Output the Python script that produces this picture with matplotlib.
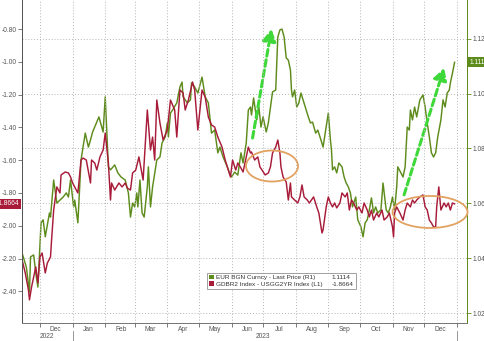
import matplotlib
matplotlib.use('Agg')
import matplotlib.pyplot as plt
import matplotlib.dates as mdates
import matplotlib.transforms as mtransforms
from matplotlib.patches import Ellipse, Patch
import pandas as pd

plt.rcParams['font.family'] = ['Liberation Sans', 'DejaVu Sans']

# jours comptes depuis le 2022-12-01
eur_days = [-17, -13, -10, -9, -6, -4, -2, 1, 3, 5, 9, 10, 13, 16, 19, 22, 25, 27, 29, 32,
            33, 36, 39, 43, 46, 48, 50, 56, 60, 62, 65, 67, 71, 74, 77, 81, 84, 86, 88, 90,
            92, 93, 95, 97, 99, 102, 103, 105, 107, 111, 114, 116, 119, 121, 122, 124, 126, 130, 133, 135,
            136, 140, 143, 144, 147, 150, 154, 157, 160, 163, 166, 169, 171, 174, 178, 180, 182, 185, 188, 191,
            193, 196, 198, 200, 201, 203, 206, 208, 210, 212, 215, 217, 219, 221, 224, 226, 228, 230, 232, 234,
            236, 238, 239, 240, 242, 244, 246, 248, 250, 253, 255, 257, 259, 262, 264, 267, 269, 272, 274, 276,
            277, 278, 280, 282, 284, 287, 289, 291, 293, 295, 297, 300, 302, 305, 307, 309, 311, 313, 315, 317,
            319, 321, 324, 326, 329, 331, 333, 335, 337, 339, 340, 343, 345, 347, 349, 351, 352, 354, 356, 358,
            361, 364, 366, 368, 370, 372, 374, 376, 378, 381, 383, 385, 387, 389, 390, 392, 394]
eur_price = [1.0419, 1.0368, 1.0277, 1.0405, 1.0412, 1.0346, 1.0295, 1.0529, 1.0540, 1.0478,
             1.0565, 1.0550, 1.0685, 1.0601, 1.0612, 1.0623, 1.0638, 1.0623, 1.0685, 1.0587,
             1.0612, 1.0529, 1.0758, 1.0856, 1.0805, 1.0831, 1.0860, 1.0915, 1.0860, 1.0988,
             1.0733, 1.0722, 1.0740, 1.0711, 1.0696, 1.0685, 1.0638, 1.0550, 1.0601, 1.0587,
             1.0638, 1.0587, 1.0685, 1.0565, 1.0550, 1.0660, 1.0733, 1.0587, 1.0660, 1.0758,
             1.0769, 1.0820, 1.0842, 1.0893, 1.0842, 1.0929, 1.0940, 1.0966, 1.1024, 1.1042,
             1.0988, 1.0966, 1.0977, 1.1039, 1.1024, 1.1002, 1.1060, 1.0988, 1.0966, 1.0856,
             1.0867, 1.0784, 1.0805, 1.0769, 1.0733, 1.0711, 1.0696, 1.0714, 1.0703, 1.0784,
             1.0747, 1.0820, 1.0940, 1.0951, 1.0922, 1.0984, 1.0904, 1.0951, 1.0878, 1.0915,
             1.0860, 1.0893, 1.0951, 1.1006, 1.1013, 1.1206, 1.1232, 1.1235, 1.1206, 1.1130,
             1.1122, 1.1086, 1.1013, 1.0988, 1.1013, 1.0951, 1.0966, 1.1002, 1.0977, 1.0940,
             1.0915, 1.0893, 1.0896, 1.0856, 1.0867, 1.0831, 1.0805, 1.0878, 1.0929, 1.0831,
             1.0795, 1.0722, 1.0733, 1.0711, 1.0747, 1.0733, 1.0696, 1.0674, 1.0660, 1.0638,
             1.0587, 1.0623, 1.0540, 1.0514, 1.0478, 1.0529, 1.0540, 1.0576, 1.0620, 1.0565,
             1.0587, 1.0565, 1.0576, 1.0674, 1.0576, 1.0565, 1.0587, 1.0623, 1.0576, 1.0660,
             1.0733, 1.0711, 1.0696, 1.0733, 1.0878, 1.0867, 1.0940, 1.0904, 1.0951, 1.0915,
             1.0977, 1.0995, 1.0951, 1.0893, 1.0842, 1.0784, 1.0769, 1.0784, 1.0842, 1.0904,
             1.0977, 1.0951, 1.1002, 1.1013, 1.1039, 1.1075, 1.1114]

spread_days = [-17, -14, -11, -10, -8, -6, -4, -2, 0, 2, 5, 7, 10, 11, 13, 16, 19, 20, 24, 27,
               29, 31, 33, 36, 39, 41, 44, 48, 49, 52, 54, 57, 60, 62, 65, 67, 68, 71, 75, 78,
               81, 83, 86, 88, 91, 94, 98, 102, 105, 107, 109, 111, 114, 117, 121, 124, 126, 128, 130, 133,
               136, 138, 141, 145, 147, 150, 154, 157, 160, 163, 166, 169, 173, 176, 179, 181, 183, 186, 188, 191,
               193, 196, 198, 200, 201, 204, 207, 209, 211, 214, 217, 219, 221, 224, 226, 228, 229, 231, 234, 236,
               238, 239, 242, 245, 247, 249, 251, 254, 256, 258, 260, 263, 265, 268, 269, 272, 274, 276, 278, 280,
               282, 285, 287, 290, 292, 294, 296, 298, 301, 303, 306, 308, 311, 313, 315, 317, 320, 322, 325, 327,
               330, 332, 335, 336, 337, 339, 342, 345, 347, 349, 352, 354, 356, 358, 361, 364, 366, 368, 370, 372,
               374, 376, 377, 379, 381, 384, 386, 388, 390, 392, 394]
spread_vals = [-2.209, -2.288, -2.391, -2.452, -2.373, -2.312, -2.251, -2.349, -2.190, -2.166,
               -2.288, -2.227, -2.190, -2.087, -1.904, -1.763, -1.800, -1.690, -1.672, -1.678,
               -1.702, -1.739, -1.763, -1.800, -1.599, -1.587, -1.599, -1.739, -1.599, -1.617,
               -1.660, -1.580, -1.538, -1.434, -1.617, -1.843, -1.739, -1.782, -1.739, -1.763,
               -1.739, -1.770, -1.782, -1.678, -1.660, -1.580, -1.721, -1.294, -1.538, -1.459,
               -1.599, -1.233, -1.373, -1.477, -1.416, -1.233, -1.263, -1.294, -1.459, -1.172,
               -1.190, -1.294, -1.233, -1.123, -1.172, -1.416, -1.172, -1.215, -1.337, -1.385,
               -1.398, -1.459, -1.520, -1.599, -1.660, -1.702, -1.599, -1.660, -1.617, -1.648,
               -1.672, -1.580, -1.520, -1.556, -1.550, -1.599, -1.580, -1.641, -1.660, -1.690,
               -1.678, -1.641, -1.556, -1.520, -1.477, -1.556, -1.641, -1.702, -1.733, -1.843,
               -1.739, -1.824, -1.843, -1.861, -1.824, -1.751, -1.824, -1.843, -1.861, -1.843,
               -1.824, -1.885, -1.922, -2.044, -2.026, -1.885, -1.824, -1.861, -1.885, -1.861,
               -1.891, -1.861, -1.800, -1.824, -1.800, -1.904, -1.843, -1.861, -1.904, -1.885,
               -1.922, -1.861, -1.904, -1.946, -1.904, -1.965, -1.922, -1.946, -1.904, -1.965,
               -1.946, -1.922, -2.007, -2.068, -1.922, -1.885, -1.922, -1.965, -1.904, -1.861,
               -1.885, -1.843, -1.861, -1.843, -1.824, -1.812, -1.885, -1.904, -1.965, -1.983,
               -2.007, -2.007, -1.885, -1.763, -1.904, -1.861, -1.885, -1.861, -1.904, -1.861,
               -1.8664]

eur_label = 'EUR BGN Curncy - Last Price (R1)'
spread_label = 'GDBR2 Index - USGG2YR Index (L1)'
eur_last = 1.1114
spread_last = -1.8664

left_ticks = [-2.40, -2.20, -2.00, -1.80, -1.60, -1.40, -1.20, -1.00, -0.80]
right_ticks = [1.02, 1.04, 1.06, 1.08, 1.10, 1.12]
months = pd.date_range('2022-12-01', '2023-12-01', freq='MS')
years = [('2022', '2022-12-08'), ('2023', '2023-07-01')]

GREEN = '#5e8c1c'
RED = '#a81c3a'
ARROW = '#3fd83a'
ORANGE = '#e2a262'
TXT = '#555555'

base = pd.Timestamp('2022-12-01')
eur_dates = base + pd.to_timedelta(eur_days, unit='D')
spread_dates = base + pd.to_timedelta(spread_days, unit='D')

fig = plt.figure(figsize=(4.85, 3.41), dpi=100)
ax = fig.add_axes([22 / 485, 18 / 341, 445 / 485, 323 / 341])
ax2 = ax.twinx()

# rouge au dessus du vert
ax.set_zorder(ax2.get_zorder() + 1)
ax.patch.set_visible(False)
ax2.patch.set_visible(True)
ax2.patch.set_facecolor('white')

ax2.plot(eur_dates, eur_price, color=GREEN, lw=1.05)
ax.plot(spread_dates, spread_vals, color=RED, lw=1.05)

ax.set_xlim(base + pd.Timedelta(days=-17.1), base + pd.Timedelta(days=405.8))
ax.set_ylim(-2.593, -0.623)
ax2.set_ylim(1.0164, 1.1341)

ax.set_yticks(left_ticks)
ax.set_yticklabels(['%.2f' % t for t in left_ticks])
ax2.set_yticks(right_ticks)
ax2.set_yticklabels(['%.2f' % t for t in right_ticks])

ax.xaxis.set_major_locator(mdates.MonthLocator())
ax.xaxis.set_major_formatter(plt.NullFormatter())
ax.xaxis.set_minor_locator(plt.FixedLocator(mdates.date2num(months + pd.Timedelta(days=15))))
ax.xaxis.set_minor_formatter(plt.FixedFormatter([m.strftime('%b') for m in months]))
ax.tick_params(axis='x', which='major', length=3, width=0.6, color='#666666')
ax.tick_params(axis='x', which='minor', length=0, labelsize=4.8, labelcolor=TXT, pad=2)
ax.tick_params(axis='y', length=3, width=0.6, color='#666666', labelsize=4.8, labelcolor=TXT, pad=1)
ax2.tick_params(axis='y', length=3, width=0.6, color=GREEN, labelsize=4.8, labelcolor=TXT, pad=1)

grid_kw = dict(color='#b5b5b5', lw=0.7, ls=(0, (1, 2)))
ax.grid(axis='x', which='major', **grid_kw)
ax2.grid(axis='y', **grid_kw)

for a in (ax, ax2):
    a.spines['top'].set_visible(False)
    a.spines['left'].set_color('#555555')
    a.spines['bottom'].set_color('#777777')
    a.spines['right'].set_color(GREEN)
    for s in a.spines.values():
        s.set_linewidth(0.7)

# annees sous les mois
trans = mtransforms.blended_transform_factory(ax.transData, ax.transAxes)
for label, day in years:
    ax.text(pd.Timestamp(day), -0.041, label, transform=trans, ha='center', va='center',
            fontsize=4.8, color=TXT)
for sep in ['2023-01-01', '2024-01-01']:
    ax.plot([pd.Timestamp(sep)] * 2, [-0.025, -0.056], transform=trans, color='#888888',
            lw=0.6, clip_on=False)

# fleches vertes en pointilles
arrow_kw = dict(arrowstyle='-|>,head_length=0.7,head_width=0.4', color=ARROW, lw=2.2,
                linestyle=(0, (2.2, 1.2)), shrinkA=0, shrinkB=0)
ax2.annotate('', xy=(pd.Timestamp('2023-07-09'), 1.1235), xytext=(pd.Timestamp('2023-06-21'), 1.0838),
             arrowprops=arrow_kw)
ax2.annotate('', xy=(pd.Timestamp('2023-12-20'), 1.1093), xytext=(pd.Timestamp('2023-11-12'), 1.0631),
             arrowprops=arrow_kw)

# ellipses oranges
ax.add_patch(Ellipse((0.5618, 0.486), 0.117, 0.096, transform=ax.transAxes, fill=False,
                     ec=ORANGE, lw=1.3, zorder=5))
ax.add_patch(Ellipse((0.9169, 0.3437), 0.1685, 0.099, transform=ax.transAxes, fill=False,
                     ec=ORANGE, lw=1.3, zorder=5, clip_on=False))

# etiquettes de derniere valeur
ax.annotate('%.4f' % spread_last, xy=(0, spread_last), xycoords=('axes fraction', 'data'),
            xytext=(-2, 0), textcoords='offset points', ha='right', va='center',
            fontsize=4.8, color='white', annotation_clip=False,
            bbox=dict(boxstyle='square,pad=0.25', fc=RED, ec='none'))
ax2.annotate('%.4f' % eur_last, xy=(1, eur_last), xycoords=('axes fraction', 'data'),
             xytext=(2, 0), textcoords='offset points', ha='left', va='center',
             fontsize=4.8, color='white', annotation_clip=False,
             bbox=dict(boxstyle='square,pad=0.25', fc=GREEN, ec='none'))

handles = [Patch(fc=GREEN, ec='none'), Patch(fc=RED, ec='none'),
           Patch(fc='none', ec='none'), Patch(fc='none', ec='none')]
labels = [eur_label, spread_label, '%.4f' % eur_last, '%.4f' % spread_last]
leg = ax.legend(handles, labels, ncol=2, loc='lower left', bbox_to_anchor=(0.415, 0.105),
                fontsize=4.6, frameon=True, fancybox=False, borderpad=0.35,
                handlelength=0.75, handleheight=0.75, handletextpad=0.35,
                labelspacing=0.15, columnspacing=0.3, borderaxespad=0)
leg.get_frame().set_edgecolor('#888888')
leg.get_frame().set_linewidth(0.7)
for t in leg.get_texts():
    t.set_color('#333333')

fig.savefig('out.png', dpi=100)
